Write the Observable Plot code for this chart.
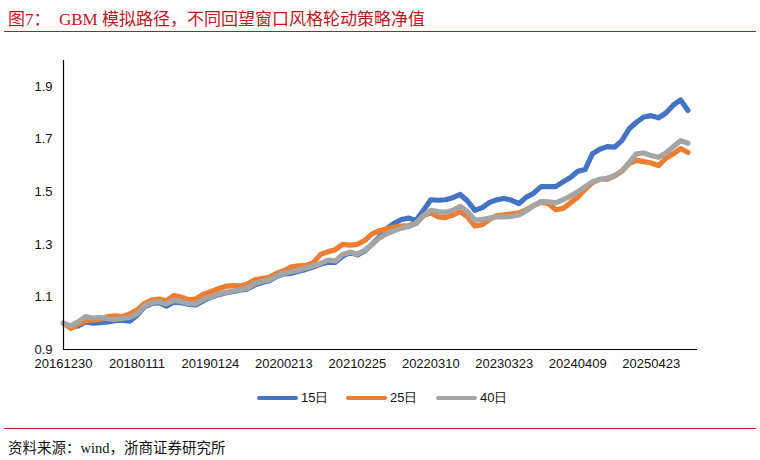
<!DOCTYPE html>
<html><head><meta charset="utf-8">
<script src="https://cdn.jsdelivr.net/npm/d3@7"></script>
<script src="https://cdn.jsdelivr.net/npm/@observablehq/plot@0.6"></script>
<style>
body{margin:0;background:#fff;}
#wrap{position:relative;width:760px;height:460px;overflow:hidden;font-family:"Liberation Sans",Arial,sans-serif;}
#title{position:absolute;left:8px;top:5px;font-family:"Liberation Serif","Noto Sans CJK SC",serif;font-size:17px;color:#C0161D;white-space:pre;}
.rule{position:absolute;left:4px;width:752px;height:1px;background:#C0161D;}
#chart{position:absolute;left:0;top:40px;}
#legend{position:absolute;top:389px;left:0;width:760px;height:18px;font-size:13px;color:#111;}
.item{position:absolute;top:0;display:flex;align-items:center;height:18px;}
.sw{width:41px;height:4px;border-radius:2px;margin-right:3px;}
#source{position:absolute;left:8px;top:436px;font-family:"Liberation Serif","Noto Sans CJK SC",serif;font-size:14.5px;color:#111;white-space:pre;}
</style></head>
<body>
<div id="wrap">
<div id="title">图7：  GBM 模拟路径，不同回望窗口风格轮动策略净值</div>
<div class="rule" style="top:31px"></div>
<div id="chart"></div>
<div id="legend"></div>
<div class="rule" style="top:428px"></div>
<div id="source">资料来源：wind，浙商证券研究所</div>
</div>
<script>
// tick labels (every 10 samples; one sample = 25 trading days)
const tickLabels = ["20161230","20180111","20190124","20200213","20210225","20220310","20230323","20240409","20250423"];
const yTicks = [0.9, 1.1, 1.3, 1.5, 1.7, 1.9];
const seriesNames = ["15日","25日","40日"];
const seriesColors = ["#4472C4","#ED7D31","#A5A5A5"];

const s15 = [1.00,0.985,0.99,1.005,1.0,1.002,1.005,1.01,1.012,1.008,
1.03,1.062,1.075,1.078,1.065,1.08,1.078,1.072,1.07,1.085,
1.098,1.108,1.115,1.12,1.126,1.13,1.145,1.155,1.162,1.178,
1.188,1.19,1.198,1.205,1.214,1.225,1.232,1.232,1.255,1.27,
1.26,1.275,1.30,1.33,1.36,1.38,1.395,1.40,1.392,1.43,
1.47,1.468,1.47,1.478,1.49,1.465,1.43,1.44,1.46,1.47,
1.475,1.468,1.455,1.48,1.495,1.52,1.52,1.52,1.538,1.555,
1.578,1.585,1.645,1.662,1.672,1.67,1.695,1.74,1.765,1.785,
1.79,1.782,1.80,1.83,1.85,1.81];

const s25 = [1.00,0.98,0.995,1.01,1.012,1.015,1.025,1.028,1.025,1.035,
1.05,1.075,1.088,1.092,1.085,1.105,1.10,1.09,1.092,1.11,
1.12,1.13,1.14,1.143,1.142,1.148,1.165,1.17,1.175,1.19,
1.2,1.215,1.218,1.22,1.23,1.262,1.272,1.28,1.30,1.297,
1.30,1.315,1.34,1.352,1.36,1.365,1.37,1.372,1.38,1.41,
1.42,1.405,1.402,1.412,1.425,1.405,1.37,1.375,1.395,1.41,
1.413,1.416,1.42,1.432,1.448,1.46,1.455,1.432,1.437,1.458,
1.48,1.51,1.535,1.548,1.548,1.56,1.578,1.608,1.62,1.615,
1.61,1.60,1.628,1.645,1.665,1.65];

const s40 = [1.00,0.99,1.005,1.025,1.02,1.022,1.017,1.015,1.018,1.022,
1.035,1.065,1.078,1.082,1.073,1.087,1.083,1.075,1.074,1.09,
1.10,1.11,1.117,1.122,1.128,1.133,1.15,1.16,1.165,1.18,
1.19,1.196,1.202,1.21,1.218,1.228,1.24,1.237,1.262,1.27,
1.263,1.278,1.30,1.325,1.34,1.352,1.362,1.368,1.38,1.41,
1.43,1.425,1.422,1.43,1.445,1.425,1.392,1.395,1.40,1.405,
1.405,1.407,1.412,1.428,1.448,1.463,1.462,1.458,1.47,1.484,
1.50,1.52,1.538,1.548,1.552,1.562,1.58,1.612,1.645,1.648,
1.638,1.632,1.648,1.672,1.695,1.685];

const allSeries = [s15, s25, s40];
const tickIdx = tickLabels.map((_, i) => i * 10);

const lineMarks = allSeries.map((arr, j) =>
  Plot.line(arr.map((v, k) => ({k, v})), {
    x: "k", y: "v", stroke: seriesColors[j], strokeWidth: 5.2,
    strokeLinejoin: "round", strokeLinecap: "round"
  })
);

const chart = Plot.plot({
  width: 760, height: 340,
  marginLeft: 63, marginRight: 63, marginTop: 20, marginBottom: 31,
  style: {fontSize: "13px", fontFamily: "'Liberation Sans', Arial, sans-serif", color: "#111", background: "#fff"},
  x: {domain: [0, 86.3], axis: null, label: null},
  y: {domain: [0.9, 2.0], axis: null, label: null},
  marks: [
    Plot.axisY({ticks: yTicks, tickFormat: d => d.toFixed(1), tickSize: 0, tickPadding: 11, fontSize: 13, label: null}),
    Plot.axisX({ticks: tickIdx, tickFormat: (d) => tickLabels[Math.round(d / 10)], tickSize: 0, tickPadding: 9, fontSize: 13, label: null}),
    ...lineMarks,
    Plot.ruleX([0], {stroke: "#000", strokeWidth: 1.2}),
    Plot.ruleY([0.9], {stroke: "#000", strokeWidth: 1.2})
  ]
});
document.getElementById("chart").appendChild(chart);

const legend = document.getElementById("legend");
const lefts = [257, 346, 436];
seriesNames.forEach((n, j) => {
  const it = document.createElement("div");
  it.className = "item";
  it.style.left = lefts[j] + "px";
  it.innerHTML = `<span class="sw" style="background:${seriesColors[j]}"></span><span>${n}</span>`;
  legend.appendChild(it);
});
</script>
</body></html>
